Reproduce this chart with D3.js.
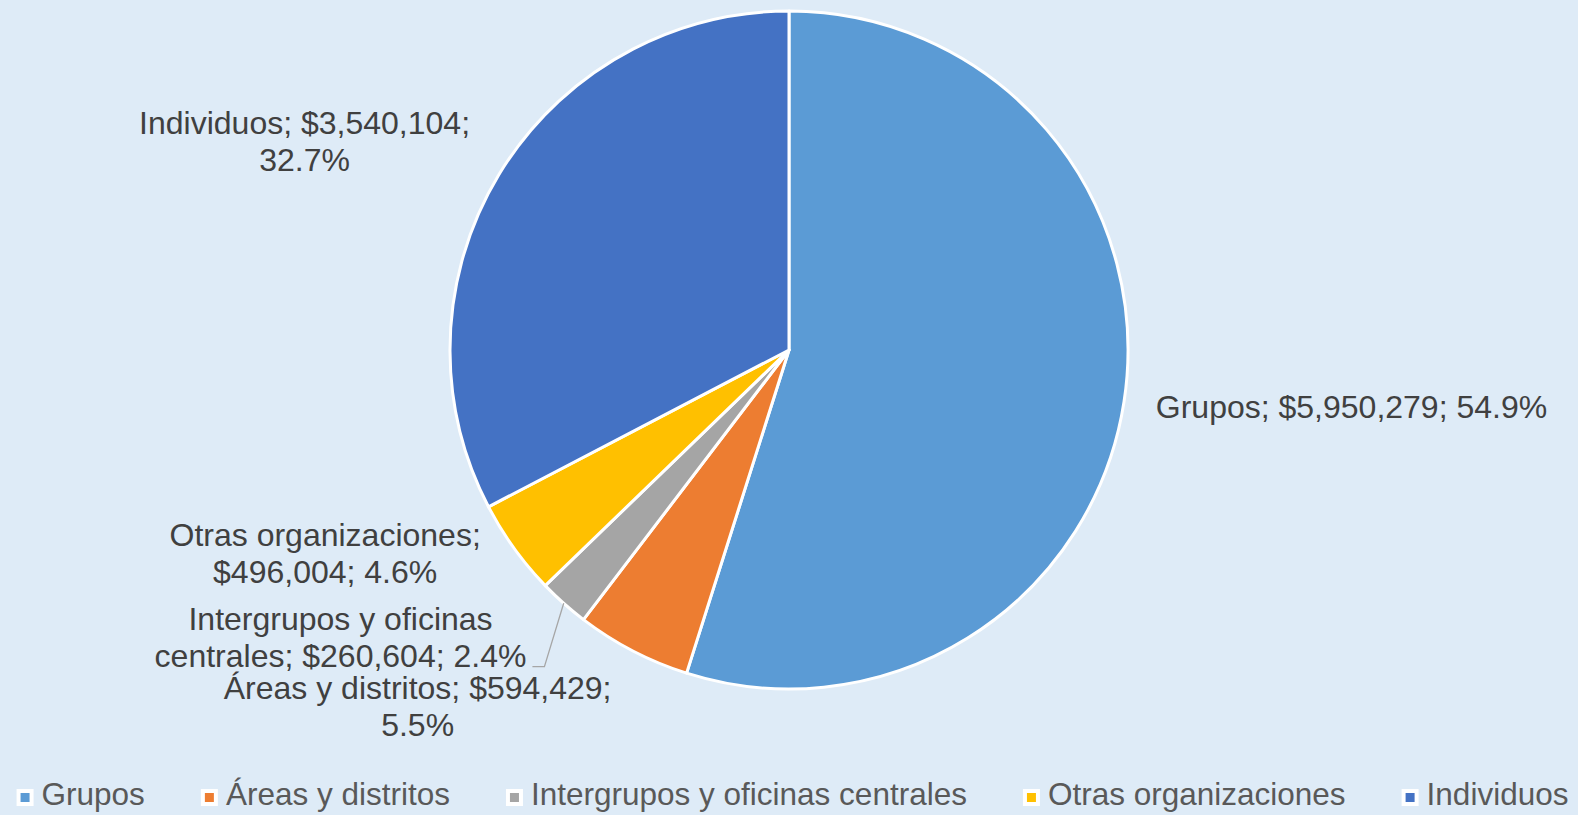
<!DOCTYPE html>
<html>
<head>
<meta charset="utf-8">
<script src="https://cdn.jsdelivr.net/npm/d3@7"></script>
<style>
  html, body { margin: 0; padding: 0; background: #DEEBF7; }
  svg { display: block; }
</style>
</head>
<body>
<div id="mainDiv"></div>
<script>
'use strict';

// data
var categories = ['Grupos', 'Áreas y distritos', 'Intergrupos y oficinas centrales', 'Otras organizaciones', 'Individuos'];
var amounts    = [5950279, 594429, 260604, 496004, 3540104];
var percents   = ['54.9%', '5.5%', '2.4%', '4.6%', '32.7%'];
var colors     = ['#5B9BD5', '#ED7D31', '#A5A5A5', '#FFC000', '#4472C4'];

var pieChart = {};
pieChart.width = 1578;
pieChart.height = 815;
pieChart.cx = 789;
pieChart.cy = 350;
pieChart.radius = 339;
pieChart.labelFont = 32;
pieChart.lineHeight = 37;
pieChart.legendFont = 31.5;

// label nudges [dx, dy] relative to the outside-end anchor
pieChart.labelNudge = [[0, 2], [0, 38], [-12, 19], [-5, -6], [0, -22]];
pieChart.leader = [false, false, true, false, false];

pieChart.fmt = d3.format('$,');

// Excel wraps the labels; the break points differ per label
pieChart.labelLines = function(i) {
  var name = categories[i] + ';', amt = pieChart.fmt(amounts[i]) + ';', pct = percents[i];
  if (i === 0) return [name + ' ' + amt + ' ' + pct];
  if (i === 2) return ['Intergrupos y oficinas', 'centrales; ' + amt + ' ' + pct];
  if (i === 3) return [name, amt + ' ' + pct];
  return [name + ' ' + amt, pct];
};

pieChart.start = function() {
  var svg = d3.select('#mainDiv').append('svg')
    .attr('width', pieChart.width)
    .attr('height', pieChart.height)
    .style('font-family', '"Liberation Sans", Arial, sans-serif');

  svg.append('rect').attr('width', pieChart.width).attr('height', pieChart.height).attr('fill', '#DEEBF7');

  var g = svg.append('g').attr('transform', 'translate(' + pieChart.cx + ',' + pieChart.cy + ')');

  var pie = d3.pie().sort(null).value(function(d) { return d; });
  var arcs = pie(amounts);
  var arc = d3.arc().innerRadius(0).outerRadius(pieChart.radius);

  g.selectAll('path.slice')
    .data(arcs)
    .enter().append('path')
    .attr('class', 'slice')
    .attr('d', arc)
    .attr('fill', function(d, i) { return colors[i]; })
    .attr('stroke', '#FFFFFF')
    .attr('stroke-width', 3)
    .attr('stroke-linejoin', 'round');

  // data labels, placed at the outside end of each slice
  var outer = d3.arc().innerRadius(pieChart.radius + 20).outerRadius(pieChart.radius + 20);
  var edge = d3.arc().innerRadius(pieChart.radius).outerRadius(pieChart.radius);

  arcs.forEach(function(d, i) {
    var p = outer.centroid(d);
    var lines = pieChart.labelLines(i);
    var t = g.append('text')
      .attr('fill', '#404040')
      .attr('font-size', pieChart.labelFont)
      .attr('text-anchor', 'middle');
    var spans = lines.map(function(l) { return t.append('tspan').text(l); });
    var maxW = d3.max(spans, function(s) { return s.node().getComputedTextLength(); });
    var right = p[0] > 0;
    var boxX = right ? p[0] + 12 : p[0] - 12 - maxW;
    boxX += pieChart.labelNudge[i][0];
    var midX = boxX + maxW / 2;
    var midY = p[1] + pieChart.labelNudge[i][1];
    var firstBase = midY - (lines.length - 1) * pieChart.lineHeight / 2 + pieChart.labelFont * 0.34;
    spans.forEach(function(s, k) {
      s.attr('x', midX).attr('y', firstBase + k * pieChart.lineHeight);
    });

    if (pieChart.leader[i]) {
      var e = edge.centroid(d);
      var by = firstBase + (lines.length - 1) * pieChart.lineHeight;
      var bx = boxX + maxW;
      g.append('path')
        .attr('d', d3.line()([e, [bx + 18, by], [bx + 6, by]]))
        .attr('fill', 'none')
        .attr('stroke', '#A6A6A6')
        .attr('stroke-width', 1.3);
    }
  });

  // legend
  var legend = svg.append('g');
  var items = legend.selectAll('g.item')
    .data(categories)
    .enter().append('g')
    .attr('class', 'item');
  items.append('rect')
    .attr('width', 13).attr('height', 13)
    .attr('y', -14)
    .attr('fill', function(d, i) { return colors[i]; })
    .attr('stroke', '#FFFFFF')
    .attr('stroke-width', 4);
  items.append('text')
    .attr('x', 23)
    .attr('fill', '#595959')
    .attr('font-size', pieChart.legendFont)
    .text(function(d) { return d; });

  var gap = 58, x = 0;
  items.each(function() {
    var w = 23 + d3.select(this).select('text').node().getComputedTextLength();
    d3.select(this).attr('transform', 'translate(' + x + ',0)');
    x += w + gap;
  });
  var total = x - gap;
  legend.attr('transform', 'translate(' + (793.5 - total / 2) + ',805)');
};

window.onload = pieChart.start;
</script>
</body>
</html>
